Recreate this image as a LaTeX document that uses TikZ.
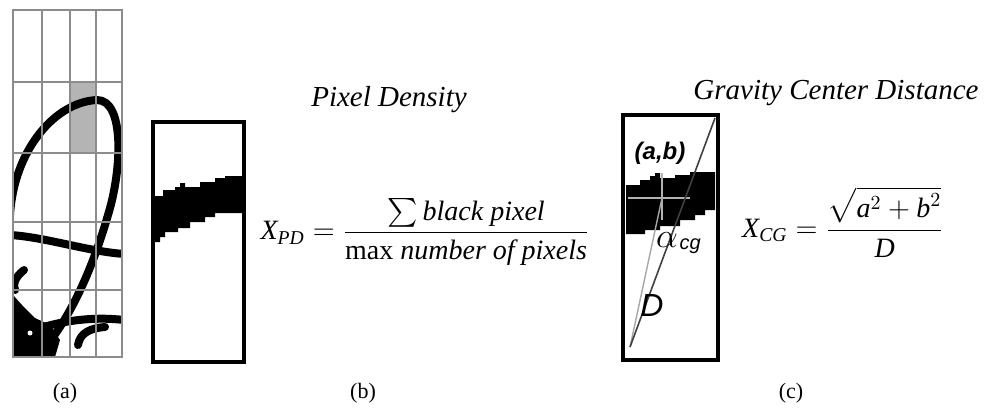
\documentclass[tikz,border=0pt]{standalone}
\usepackage{amsmath}
\usepackage{fontspec}
\setmainfont{Liberation Serif}[
  UprightFont={Liberation Serif},
  ItalicFont={Liberation Serif Italic},
  BoldFont={Liberation Serif Bold},
  BoldItalicFont={Liberation Serif Bold Italic}]
\newfontfamily\labelfont{Liberation Sans}
\usetikzlibrary{positioning}
\definecolor{CellGray}{HTML}{B4B4B4}
\definecolor{RuleGray}{HTML}{8C8C8C}

\tikzset{
  heading/.style={font=\fontsize{14.5}{17}\selectfont\itshape},
  caption/.style={font=\fontsize{11}{13}\selectfont},
  formula/.style={font=\fontsize{14}{17}\selectfont},
  frame/.style={draw=black, line width=2pt},
  ink/.style={line width=4pt, line cap=round, line join=round},
  marklabel/.style={font=\fontsize{13}{15}\selectfont\labelfont\itshape},
}

\begin{document}
\begin{tikzpicture}[x=0.5pt, y=-0.5pt]
    \useasboundingbox (0,0) rectangle (990,412);

    % (a) grid over the handwriting
    \fill[CellGray] (70,82) rectangle (96,153);
    \begin{scope}
        \clip (13,10) rectangle (122,357);
        \draw[ink] (10,215) .. controls (14,150) and (55,102) .. (97,100)
            .. controls (125,100) and (122,170) .. (108,215)
            .. controls (95,260) and (75,310) .. (47,345);
        \draw[ink] (10,235) .. controls (45,237) and (90,252) .. (125,254);
        \draw[ink] (24,270) .. controls (14,278) and (13,285) .. (15,290);
        \fill (13,295) -- (22,305) -- (35,318) -- (50,325) -- (60,340) -- (55,357) -- (13,357) -- cycle;
        \fill[white] (30,333) circle (2.5);
        \draw[ink] (40,328) .. controls (60,322) and (90,316) .. (124,320);
        \draw[ink] (78,345) .. controls (80,332) and (92,328) .. (105,327);
    \end{scope}
    \foreach \gx in {42,70,96}
        \draw[RuleGray, line width=0.8pt] (\gx,10) -- (\gx,357);
    \foreach \gy in {82,153,222,290}
        \draw[RuleGray, line width=0.8pt] (13,\gy) -- (122,\gy);
    \draw[RuleGray, line width=0.8pt] (13,10) rectangle (122,357);

    % (b) one cell, pixel density
    \fill (155,196) -- (163,196) -- (163,190) -- (175,190) -- (175,187) -- (180,187)
        -- (180,183) -- (185,183) -- (185,187) -- (200,187) -- (200,182) -- (215,182)
        -- (215,178) -- (225,178) -- (225,176) -- (242,176) -- (242,213) -- (215,213)
        -- (215,217) -- (205,217) -- (205,222) -- (190,222) -- (190,228) -- (178,228)
        -- (178,232) -- (165,232) -- (165,237) -- (160,237) -- (160,242) -- (155,242) -- cycle;
    \node[frame, minimum width=45.5pt, minimum height=120pt] (cellb) at (198.5,242) {};

    \node[heading] (pdtitle) at (389,100) {Pixel Density};
    \node[formula] (pdformula) at (425,232)
        {$\textit{X}_{\textit{PD}} = \dfrac{\sum\textit{black pixel}}{\text{max }\textit{number of  pixels}}$};

    % (c) one cell, gravity center distance
    \fill (626,185) -- (640,185) -- (640,180) -- (650,180) -- (650,176) -- (655,176)
        -- (655,173) -- (660,173) -- (660,178) -- (675,178) -- (675,175) -- (690,175)
        -- (690,172) -- (715,172) -- (715,210) -- (705,210) -- (705,215) -- (695,215)
        -- (695,220) -- (680,220) -- (680,226) -- (660,226) -- (660,230) -- (645,230)
        -- (645,234) -- (626,234) -- cycle;
    \coordinate (corner) at (630,347);
    \coordinate (topright) at (715,118);
    \coordinate (gc) at (662,198);
    \draw[gray!60, line width=0.7pt] (628,198) -- (690,198);
    \draw[gray!60, line width=0.7pt] (662,173) -- (662,220);
    \draw[gray!70, line width=0.7pt] (corner) -- (gc);
    \draw[black!75, line width=0.8pt] (corner) -- (topright);
    \node[frame, minimum width=47.5pt, minimum height=122.5pt] (cellc) at (670.5,237.5) {};

    \node[marklabel, font=\fontsize{12}{14}\selectfont\labelfont\bfseries\itshape] (ablabel) at (660,153) {(a,b)};
    \node[marklabel, inner sep=0pt, font=\fontsize{17}{19}\selectfont] (alphalabel) at (667,240) {$\alpha$};
    \node[marklabel, inner sep=0pt, font=\fontsize{10}{12}\selectfont\labelfont\itshape, right=0.5pt of alphalabel, yshift=-3pt] (cglabel) {cg};
    \node[marklabel, font=\fontsize{16}{18}\selectfont\labelfont\itshape] (dlabel) at (652,305) {D};

    \node[heading] (cgtitle) at (836,93) {Gravity Center Distance};
    \node[formula] (cgformula) at (843,222)
        {$\textit{X}_{\textit{CG}} = \dfrac{\sqrt{\textit{a}^{2}+\textit{b}^{2}}}{\textit{D}}$};

    % captions
    \node[caption] (capa) at (65,393) {(a)};
    \node[caption] (capb) at (363,393) {(b)};
    \node[caption] (capc) at (791,393) {(c)};
\end{tikzpicture}
\end{document}
